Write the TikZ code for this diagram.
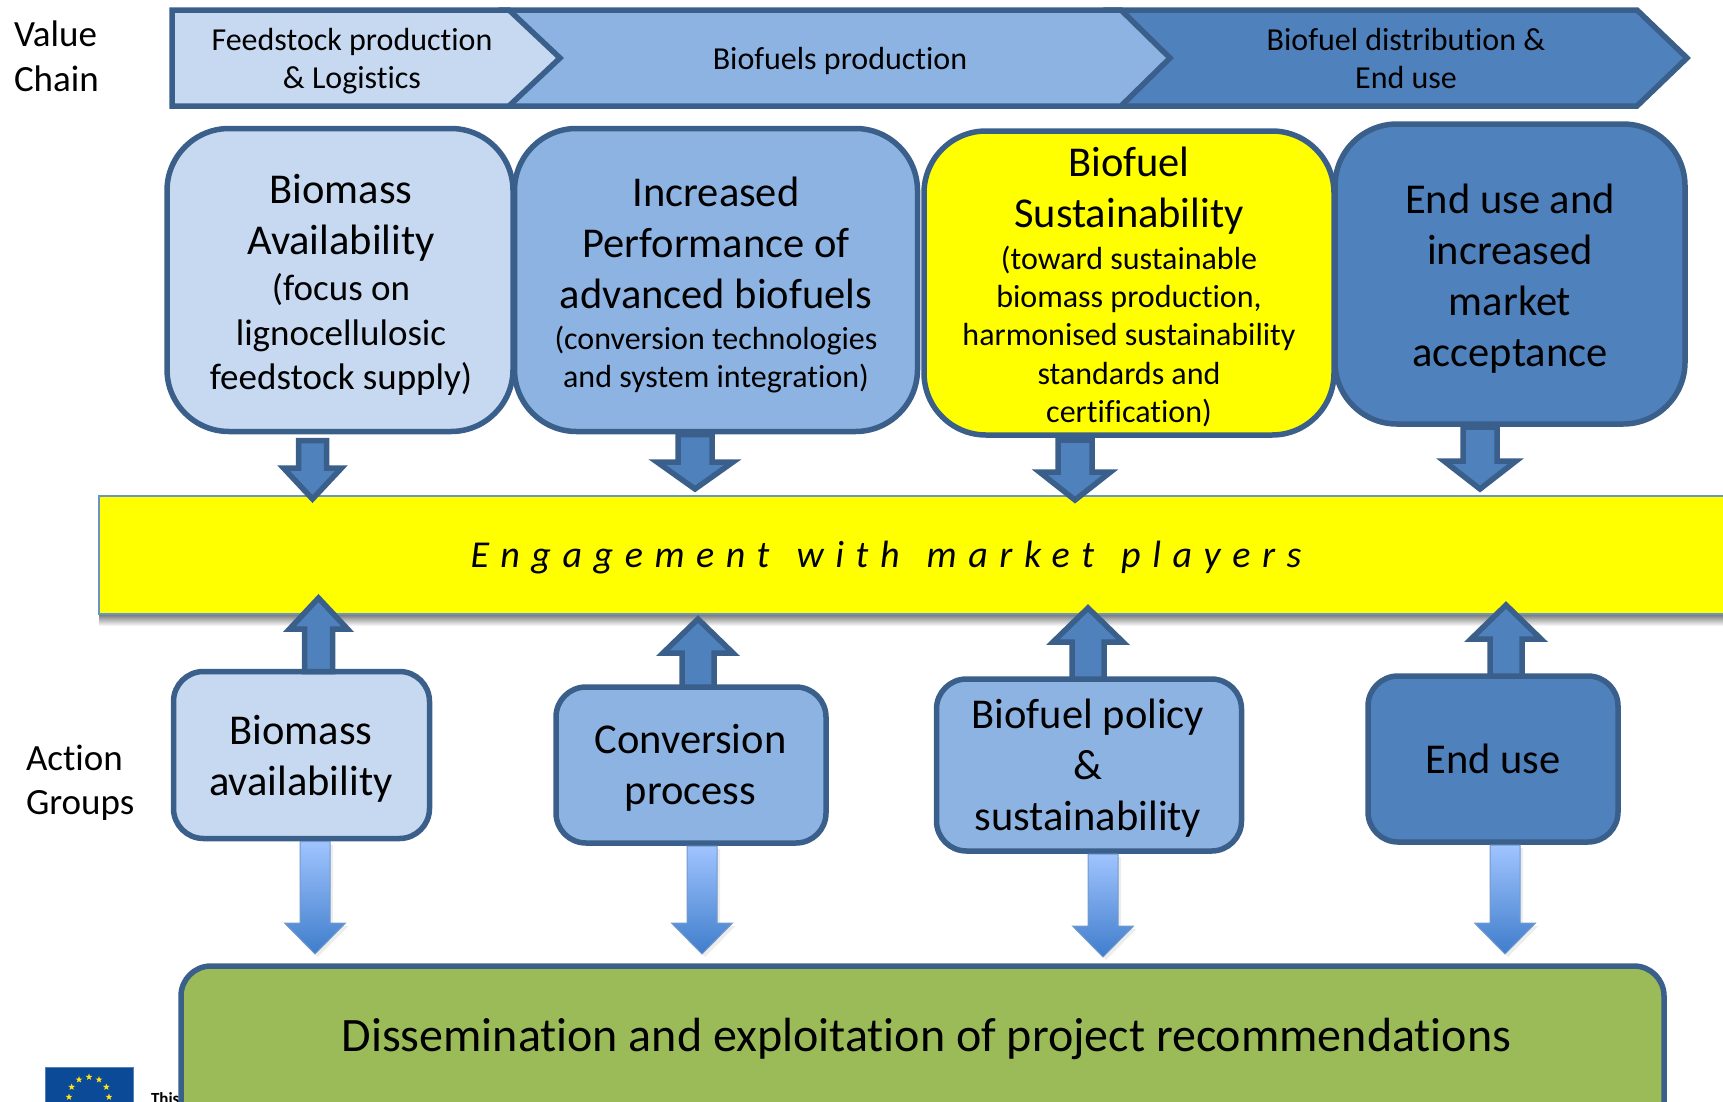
\documentclass[tikz,border=0pt]{standalone}
\usepackage{fontspec}
\setmainfont[Ligatures=CommonOff]{Carlito}
\usetikzlibrary{calc,shapes.geometric}
\definecolor{lightb}{HTML}{C6D9F1}
\definecolor{midb}{HTML}{8DB3E2}
\definecolor{darkb}{HTML}{4F81BD}
\definecolor{edgeb}{HTML}{3A5F8B}
\definecolor{greenb}{HTML}{9BBB59}
\definecolor{gradtop}{HTML}{A0C4FF}
\definecolor{gradbot}{HTML}{3F7DCB}
\definecolor{flagb}{HTML}{0B4A97}
\definecolor{pureyellow}{HTML}{FFFF00}
\definecolor{stary}{HTML}{FFE41A}
\newcommand{\fsz}[2]{\fontsize{#1}{#2}\selectfont}
% start, tip, shaft half-width, head half-width, head length, style
\newcommand{\blockarrow}[6]{%
  \coordinate (A) at #1; \coordinate (B) at #2;
  \coordinate (S) at ($(B)!#5pt!(A)$);
  \path[#6] ($(A)!#3pt!90:(B)$) -- ($(S)!#3pt!90:(B)$) -- ($(S)!#4pt!90:(B)$) -- (B)
    -- ($(S)!#4pt!-90:(B)$) -- ($(S)!#3pt!-90:(B)$) -- ($(A)!#3pt!-90:(B)$) -- cycle;
}
\tikzset{
  x=1pt,y=-1pt,
  every node/.style={outer sep=0pt},
  bigbox/.style={draw=edgeb,line width=5.5pt,rounded corners=62pt,inner sep=0pt},
  actbox/.style={draw=edgeb,line width=5.5pt,rounded corners=30pt,inner sep=0pt},
  chev/.style={draw=edgeb,line width=5.5pt,line join=miter},
  lbl/.style={align=center,inner sep=0pt,text=black},
  darkarrow/.style={draw=edgeb,fill=darkb,line width=5.5pt,line join=miter},
  gradarrow/.style={top color=gradtop,bottom color=gradbot,draw=darkb!80!white,line width=1pt},
  arrowshadow/.style={fill=black,opacity=0.07},
}
\begin{document}
\begin{tikzpicture}
\clip (0,0) rectangle (1723,1101);
% side labels
\node[lbl,anchor=west,align=left,font=\fsz{37}{45}] (vc) at (14,56) {Value\\Chain};
\node[lbl,anchor=west,align=left,font=\fsz{37}{44}] (ag) at (26,783) {Action\\Groups};
% chevrons
\path[chev,fill=darkb] (1110,10) -- (1637,10) -- (1687,58) -- (1637,106) -- (1110,106) -- (1160,58) -- cycle;
\path[chev,fill=midb] (505,10) -- (1121,10) -- (1170,58) -- (1121,106) -- (505,106) -- (556,58) -- cycle;
\path[chev,fill=lightb] (172,10) -- (509,10) -- (560,58) -- (509,106) -- (172,106) -- cycle;
\node[lbl,font=\fsz{32}{38}] (c1) at (352,61) {Feedstock production\\\& Logistics};
\node[lbl,font=\fsz{32}{38}] (c2) at (840,61) {Biofuels production};
\node[lbl,font=\fsz{32}{38}] (c3) at (1406,59) {Biofuel distribution \&\\End use};
% top boxes
\node[bigbox,fill=lightb,minimum width=346pt,minimum height=303pt] (b1) at (340,280) {};
\node[bigbox,fill=midb,minimum width=403pt,minimum height=303pt] (b2) at (716,280) {};
\node[bigbox,fill=pureyellow,minimum width=410pt,minimum height=304pt] (b3) at (1129,283) {};
\node[bigbox,fill=darkb,minimum width=350pt,minimum height=300pt] (b4) at (1510,274) {};
\node[lbl,font=\fsz{42.5}{51}] (t1) at (341,284.5) {Biomass\\Availability\\[-5pt]\fsz{37}{44}(focus on\\[-6pt]\fsz{37}{44}lignocellulosic\\[-7pt]\fsz{37}{44}feedstock supply)};
\node[lbl,font=\fsz{42.5}{51}] (t2) at (716,285) {Increased\\Performance of\\advanced biofuels\\[-10.4pt]\fsz{32}{38}(conversion technologies\\[-12.5pt]\fsz{32}{38}and system integration)};
\node[lbl,font=\fsz{42.5}{51}] (t3) at (1129,287.2) {Biofuel\\Sustainability\\[-9.3pt]\fsz{32}{38}(toward sustainable\\[-13pt]\fsz{32}{38}biomass production,\\[-13pt]\fsz{32}{38}harmonised sustainability\\[-12pt]\fsz{32}{38}standards and\\[-13pt]\fsz{32}{38}certification)};
\node[lbl,font=\fsz{42.5}{51}] (t4) at (1510,278.3) {End use and\\increased\\market\\acceptance};
% band
\fill[top color=black!55,bottom color=white,shading angle=0] (99,614) rectangle (1730,626);
\node[fill=pureyellow,draw=darkb!85!white,line width=1.5pt,minimum width=1660pt,minimum height=118pt,inner sep=0pt,anchor=north west] (band) at (99,496) {};
\node[lbl,font={\fsz{38}{44}\itshape\addfontfeature{LetterSpace=30.5}}] (eng) at (886,558) {Engagement\hspace{7pt} with\hspace{7pt} market\hspace{7pt} players};
% bottom boxes and flag
\node[fill=flagb,draw=flagb!70!white,line width=0.5pt,minimum width=88pt,minimum height=60pt,anchor=north west,inner sep=0pt] (flag) at (45,1067) {};
\foreach \a in {0,30,...,330}
  \node[star,star points=5,star point ratio=2.4,fill=stary,minimum size=7pt,inner sep=0pt] (st\a) at ($(89,1097)+(\a:20 and -20)$) {};
\node[lbl,anchor=west,font=\fsz{17}{20}\bfseries] (this) at (151,1099) {This};
\node[actbox,fill=lightb,minimum width=256pt,minimum height=167pt] (a1) at (301.5,755) {};
\node[actbox,fill=midb,minimum width=270pt,minimum height=156pt] (a2) at (691,765) {};
\node[actbox,fill=midb,minimum width=305pt,minimum height=172pt] (a3) at (1089,765) {};
\node[actbox,fill=darkb,minimum width=250pt,minimum height=166pt] (a4) at (1493,759) {};
\node[lbl,font=\fsz{42.5}{51}] (a1t) at (301,759) {Biomass\\availability};
\node[lbl,font=\fsz{42.5}{51}] (a2t) at (690.5,768) {Conversion\\process};
\node[lbl,font=\fsz{42.5}{51}] (a3t) at (1088,768.5) {Biofuel policy\\\&\\sustainability};
\node[lbl,font=\fsz{42.5}{51}] (a4t) at (1493,759) {End use};
\node[draw=edgeb,fill=greenb,line width=5.5pt,rounded corners=30pt,minimum width=1483pt,minimum height=180pt,anchor=north west,inner sep=0pt] (dis) at (181,966) {};
\node[lbl,font=\fsz{48}{56}] (dist) at (926.5,1039) {Dissemination and exploitation of project recommendations};
% dark arrows box -> band
\blockarrow{($(b1.south)+(-27.5,9)$)}{(312.5,499)}{14}{29}{31}{darkarrow}
\blockarrow{($(b2.south)+(-21,3)$)}{(695,489)}{17}{38}{27}{darkarrow}
\blockarrow{($(b3.south)+(-54,5)$)}{(1075,500)}{17}{35.5}{28}{darkarrow}
\blockarrow{($(b4.south)+(-30,3)$)}{(1480,489)}{17}{36}{28}{darkarrow}
% dark arrows action -> band
\blockarrow{($(a1.north)+(17,0)$)}{(318.5,598)}{14}{29}{31}{darkarrow}
\blockarrow{($(a2.north)+(7,0)$)}{(698,619)}{16}{35}{34}{darkarrow}
\blockarrow{($(a3.north)+(-1,0)$)}{(1088,608)}{16}{35}{34}{darkarrow}
\blockarrow{($(a4.north)+(13,0)$)}{(1506,605)}{16}{35}{34}{darkarrow}
% gradient arrows action -> dissemination
\newcommand{\gradarr}[4]{%
  \blockarrow{($(#1.south)+(#2+3,6)$)}{($(dis.north)+(#3-922.5+3,#4+3)$)}{15}{30.5}{31}{arrowshadow}
  \blockarrow{($(#1.south)+(#2,3)$)}{($(dis.north)+(#3-922.5,#4)$)}{15}{30.5}{31}{gradarrow}
}
\gradarr{a1}{13.5}{315}{-12}
\gradarr{a2}{11}{702}{-12}
\gradarr{a3}{14}{1103}{-9}
\gradarr{a4}{12}{1505}{-12}
\end{tikzpicture}
\end{document}
